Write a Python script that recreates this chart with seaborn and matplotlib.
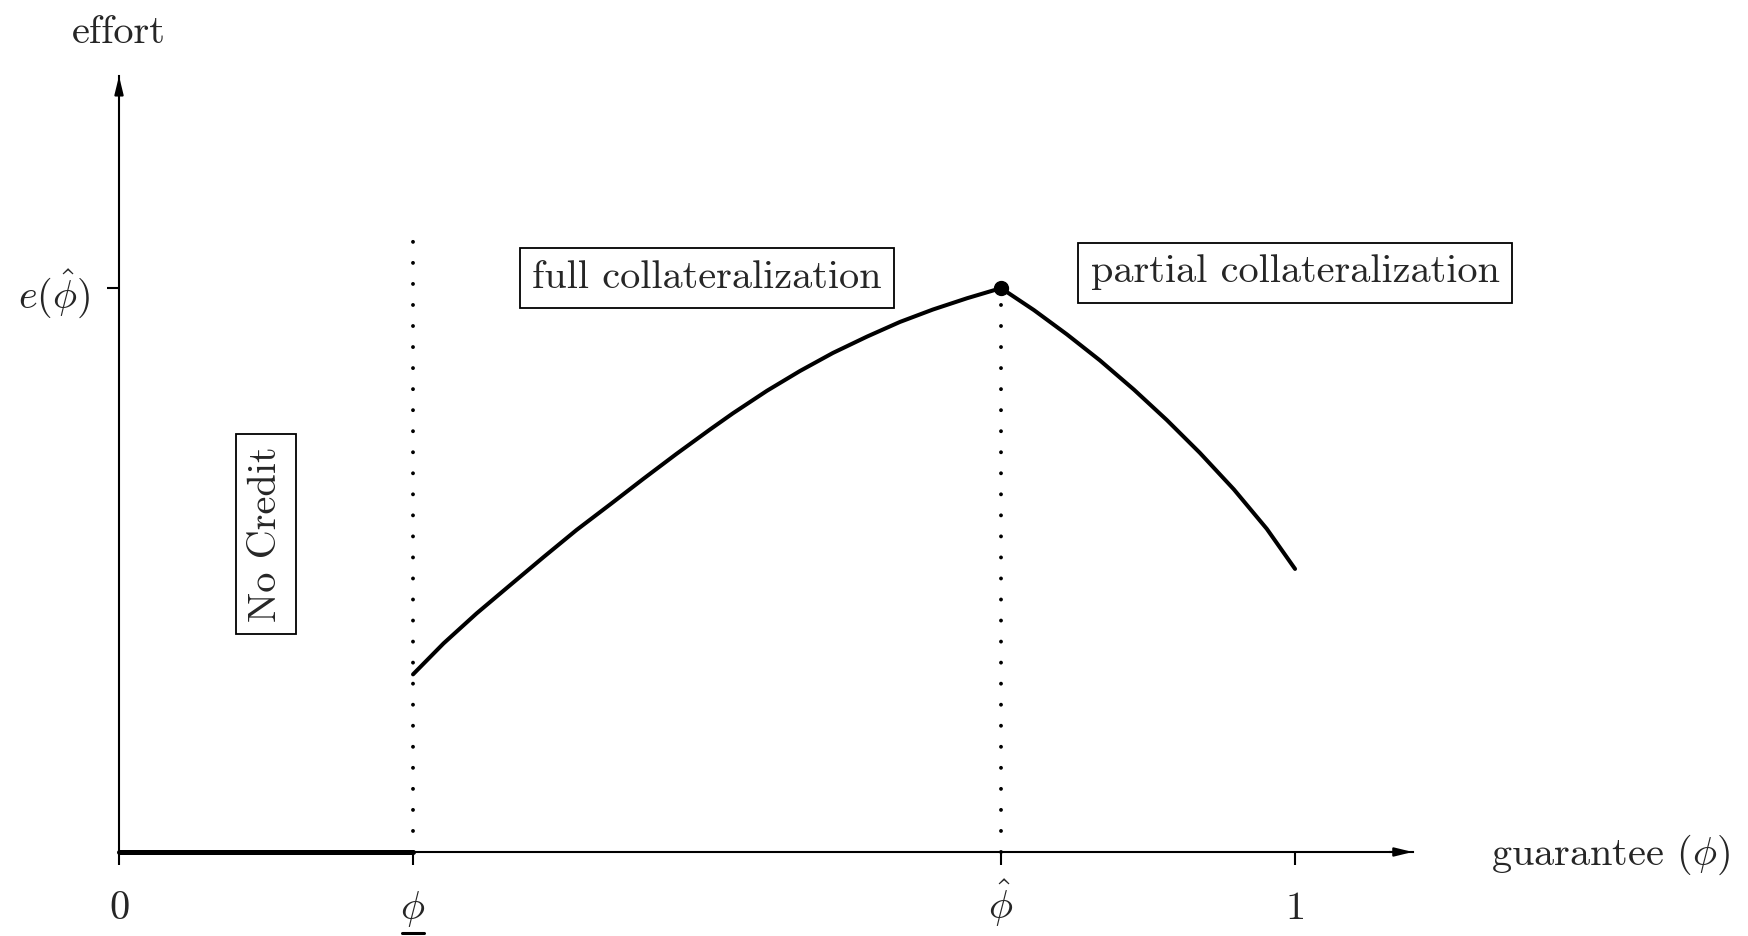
import numpy as np
import pandas as pd
import matplotlib.pyplot as plt
import seaborn as sns

# valores (eixo x: garantia phi, eixo y: esforco, e(phi_hat) = 1)
phi_low = 0.25
phi_hat = 0.75
phi_one = 1.0
e_hat = 1.0

phi_curva = [0.25, 0.276, 0.304, 0.333, 0.361, 0.389, 0.418, 0.446, 0.474, 0.503,
             0.522, 0.551, 0.579, 0.607, 0.636, 0.664, 0.692, 0.721, 0.75,
             0.778, 0.806, 0.834, 0.863, 0.891, 0.919, 0.948, 0.976, 1.0]
esforco_curva = [0.315, 0.370, 0.423, 0.474, 0.523, 0.571, 0.617, 0.662, 0.706, 0.750,
                 0.778, 0.818, 0.853, 0.885, 0.914, 0.940, 0.962, 0.982, 1.0,
                 0.961, 0.918, 0.872, 0.820, 0.766, 0.708, 0.643, 0.573, 0.502]

phi_sem_credito = [0.0, phi_low]
esforco_sem_credito = [0.0, 0.0]

rotulos_x = ["0", r"$\phi$", r"$\hat{\phi}$", "1"]
rotulo_y = r"$e(\hat{\phi})$"

x_fim = 1.1
y_fim = 1.376
topo_pontilhado = 1.105

sns.set_theme(style="white")
plt.rcParams["font.family"] = ["cmr10", "DejaVu Serif"]
plt.rcParams["mathtext.fontset"] = "cm"
plt.rcParams["axes.unicode_minus"] = False
plt.rcParams["axes.formatter.use_mathtext"] = True

tam = 29

fig = plt.figure(figsize=(17.49, 9.36), dpi=100)
ax = fig.add_axes([0, 0, 1, 1])

df = pd.DataFrame({"phi": phi_curva, "esforco": esforco_curva})
sns.lineplot(data=df, x="phi", y="esforco", sort=False, color="black", lw=2.9, ax=ax)
sns.lineplot(x=phi_sem_credito, y=esforco_sem_credito, color="black", lw=3.6, ax=ax)
ax.plot([phi_hat], [e_hat], "o", color="black", ms=10)

# linhas pontilhadas
ax.plot([phi_low, phi_low], [0, topo_pontilhado], color="black", lw=2.8,
        dashes=(0.01, 5.4), dash_capstyle="round")
ax.plot([phi_hat, phi_hat], [0, e_hat], color="black", lw=2.8,
        dashes=(0.01, 5.4), dash_capstyle="round")

ax.set_xlim(-0.1012, 1.386)
ax.set_ylim(-0.149, 1.511)
ax.set_xlabel("")
ax.set_ylabel("")

# eixos com setas
for s in ["top", "right"]:
    ax.spines[s].set_visible(False)
ax.spines["left"].set_position(("data", 0))
ax.spines["bottom"].set_position(("data", 0))
ax.spines["left"].set_bounds(0, y_fim)
ax.spines["bottom"].set_bounds(0, x_fim)
for s in ["left", "bottom"]:
    ax.spines[s].set_linewidth(1.5)
    ax.spines[s].set_color("black")

seta = dict(arrowstyle="-|>,head_length=0.9,head_width=0.22", lw=1.5, color="black",
            shrinkA=0, shrinkB=0)
ax.annotate("", xy=(x_fim, 0), xytext=(x_fim - 0.02, 0), arrowprops=seta)
ax.annotate("", xy=(0, y_fim), xytext=(0, y_fim - 0.03), arrowprops=seta)

ax.set_xticks([0, phi_low, phi_hat, phi_one])
ax.set_xticklabels(rotulos_x)
ax.set_yticks([e_hat])
ax.set_yticklabels([rotulo_y])
ax.tick_params(axis="x", direction="out", length=9, width=1.5, color="black",
               pad=39, labelsize=tam, bottom=True)
ax.tick_params(axis="y", direction="out", length=9, width=1.5, color="black",
               pad=12, labelsize=tam, left=True)
for lbl in ax.get_xticklabels():
    lbl.set_va("baseline")
ax.grid(False)

# sublinhado do phi inferior
ax.plot([phi_low - 0.009, phi_low + 0.009], [-0.143, -0.143], color="black", lw=2.2)

ax.text(0, 1.434, "effort", ha="center", va="baseline", fontsize=tam)
ax.text(1.167, -0.023, r"guarantee ($\phi$)", ha="left", va="baseline", fontsize=tam)

caixa = dict(boxstyle="square,pad=0.3", fc="white", ec="black", lw=1.3)
ax.text(0.5, 1.0, "full collateralization", ha="center", va="baseline",
        fontsize=tam, bbox=caixa)
ax.text(1.0, 1.01, "partial collateralization", ha="center", va="baseline",
        fontsize=tam, bbox=caixa)
ax.text(0.125, 0.564, "No Credit", ha="center", va="center", rotation=90,
        fontsize=tam, bbox=caixa)

fig.savefig("out.png", dpi=100)
plt.close(fig)
